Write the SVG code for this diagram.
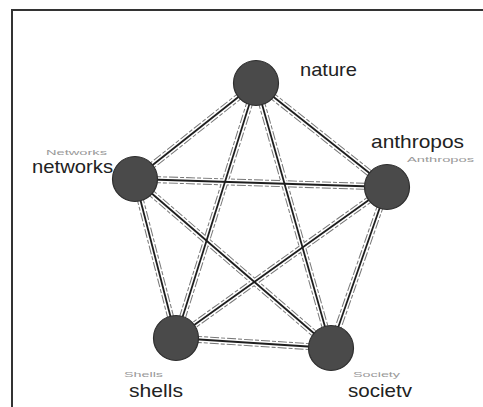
<svg xmlns="http://www.w3.org/2000/svg" xmlns:xlink="http://www.w3.org/1999/xlink" width="483" height="407" viewBox="0 0 483 407">
<style>
.frame{fill:none;stroke:#333;stroke-width:2}
.outer{stroke:#777;stroke-width:7;stroke-dasharray:9 2 4 2}
.inner{stroke:#fff;stroke-width:5}
.core{stroke:#1e1e1e;stroke-width:1.8}
.node{fill:#4a4a4a;stroke:#2e2e2e;stroke-width:1.2}
.lbl{font-family:"Liberation Sans",Arial,sans-serif;font-size:19px;fill:#222}
.sub{font-family:"Liberation Sans",Arial,sans-serif;font-size:8px;fill:#999}
</style>
<defs>
<line id="e1" x1="256" y1="83" x2="135" y2="179"/>
<line id="e2" x1="256" y1="83" x2="387" y2="187"/>
<line id="e3" x1="256" y1="83" x2="176" y2="338"/>
<line id="e4" x1="256" y1="83" x2="331" y2="348"/>
<line id="e5" x1="135" y1="179" x2="387" y2="187"/>
<line id="e6" x1="135" y1="179" x2="176" y2="338"/>
<line id="e7" x1="135" y1="179" x2="331" y2="348"/>
<line id="e8" x1="387" y1="187" x2="176" y2="338"/>
<line id="e9" x1="387" y1="187" x2="331" y2="348"/>
<line id="e10" x1="176" y1="338" x2="331" y2="348"/>
</defs>
<rect width="483" height="407" fill="#fff"/>
<path class="frame" d="M12 407 V10 H483"/>
<g id="connectors">
<g class="outer"><use xlink:href="#e1"/><use xlink:href="#e2"/><use xlink:href="#e3"/><use xlink:href="#e4"/><use xlink:href="#e5"/><use xlink:href="#e6"/><use xlink:href="#e7"/><use xlink:href="#e8"/><use xlink:href="#e9"/><use xlink:href="#e10"/></g>
<g class="inner"><use xlink:href="#e1"/><use xlink:href="#e2"/><use xlink:href="#e3"/><use xlink:href="#e4"/><use xlink:href="#e5"/><use xlink:href="#e6"/><use xlink:href="#e7"/><use xlink:href="#e8"/><use xlink:href="#e9"/><use xlink:href="#e10"/></g>
<g class="core"><use xlink:href="#e1"/><use xlink:href="#e2"/><use xlink:href="#e3"/><use xlink:href="#e4"/><use xlink:href="#e5"/><use xlink:href="#e6"/><use xlink:href="#e7"/><use xlink:href="#e8"/><use xlink:href="#e9"/><use xlink:href="#e10"/></g>
</g>
<g id="nature">
<circle class="node" cx="256" cy="83" r="22.5"/>
<text class="lbl" x="300" y="76" textLength="57" lengthAdjust="spacingAndGlyphs">nature</text>
</g>
<g id="networks">
<circle class="node" cx="135" cy="179" r="22.5"/>
<text class="sub" x="46" y="155" textLength="61" lengthAdjust="spacingAndGlyphs">Networks</text>
<text class="lbl" x="32" y="173" textLength="81" lengthAdjust="spacingAndGlyphs">networks</text>
</g>
<g id="anthropos">
<circle class="node" cx="387" cy="187" r="22.5"/>
<text class="lbl" x="371" y="148" textLength="93" lengthAdjust="spacingAndGlyphs">anthropos</text>
<text class="sub" x="407" y="162" textLength="67" lengthAdjust="spacingAndGlyphs">Anthropos</text>
</g>
<g id="shells">
<circle class="node" cx="176" cy="338" r="22.5"/>
<text class="sub" x="124" y="377" textLength="39" lengthAdjust="spacingAndGlyphs">Shells</text>
<text class="lbl" x="129" y="397" textLength="54" lengthAdjust="spacingAndGlyphs">shells</text>
</g>
<g id="society">
<circle class="node" cx="331" cy="348" r="22.5"/>
<text class="sub" x="353" y="377" textLength="47" lengthAdjust="spacingAndGlyphs">Society</text>
<text class="lbl" x="348" y="397" textLength="64" lengthAdjust="spacingAndGlyphs">societv</text>
</g>
</svg>
